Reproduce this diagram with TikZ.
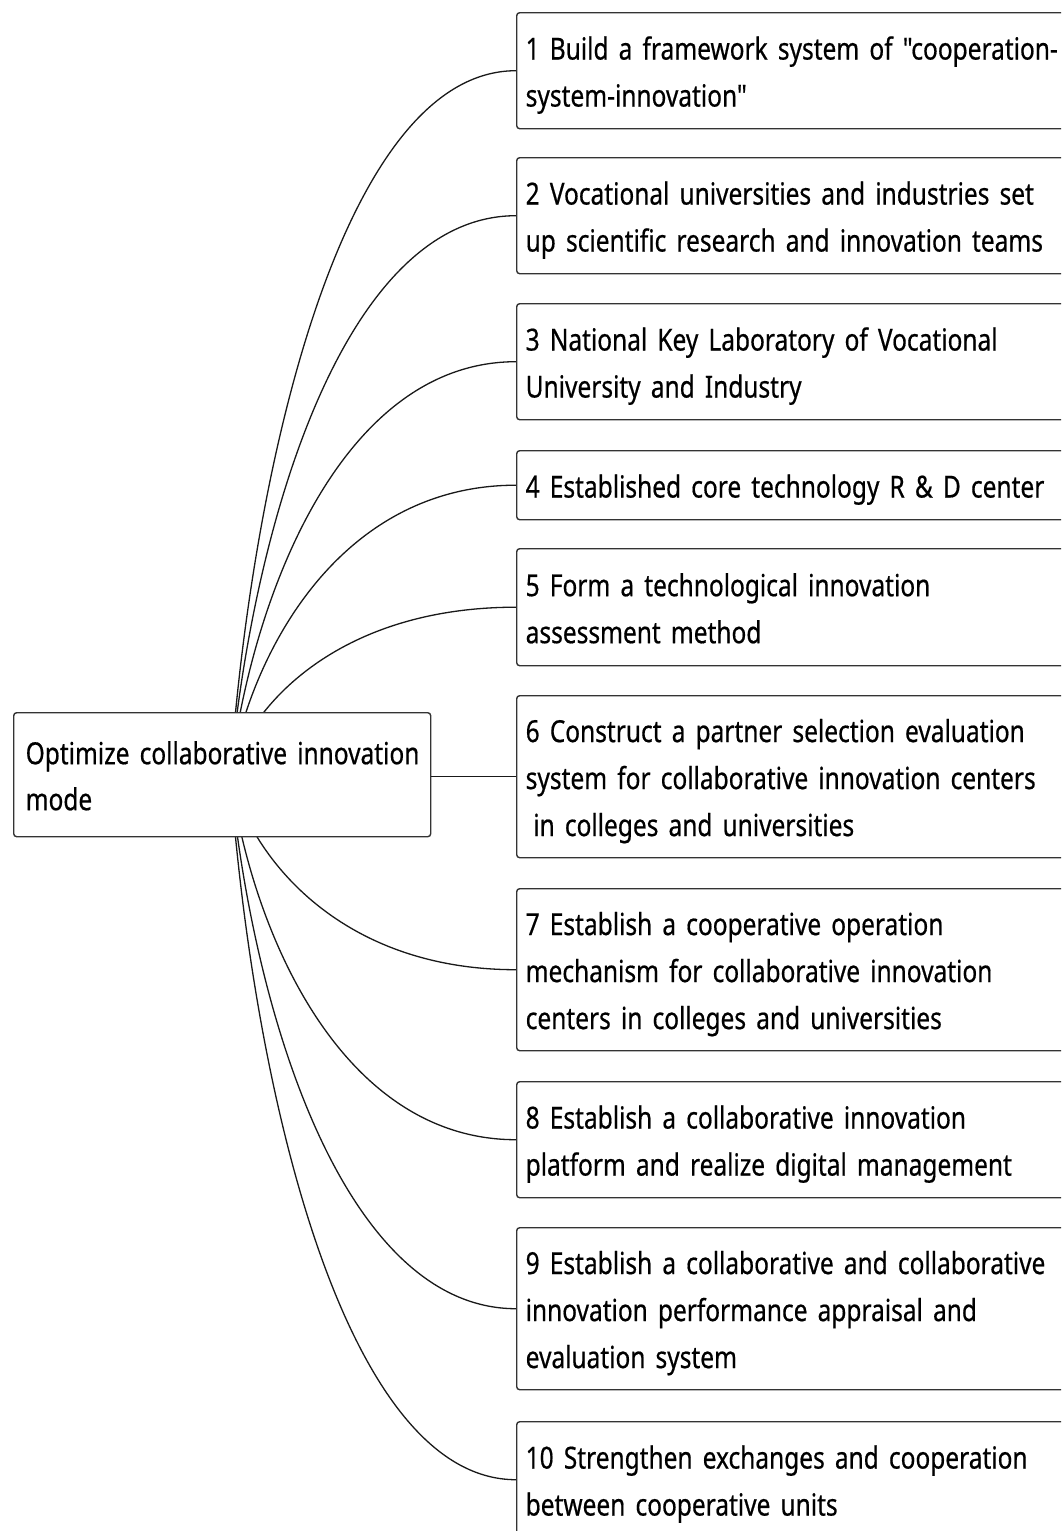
\documentclass[tikz,border=0pt]{standalone}
\usepackage{fontspec}
\newfontfamily\nsans{Noto Sans}[FakeStretch=0.805, WordSpace=0.85, FakeBold=0.5]
\usetikzlibrary{calc,backgrounds}
\newcommand{\bxt}[1]{\rule{0pt}{32pt}#1\rule[-7pt]{0pt}{7pt}}
\tikzset{
  topic/.style={draw=black!80, line width=1.4pt, rounded corners=3pt, fill=white,
    anchor=north west, inner xsep=9pt, inner ysep=0pt, align=left,
    minimum width=570pt, text width=552pt,
    font=\nsans\fontsize{30.4pt}{47pt}\selectfont},
  roottopic/.style={topic, inner xsep=12pt, minimum width=417pt, text width=393pt,
    font=\nsans\fontsize{30.4pt}{46pt}\selectfont},
  link/.style={draw=black!90, line width=1.3pt},
}
\begin{document}
\begin{tikzpicture}[x=1pt,y=-1pt]
\useasboundingbox (0,0) rectangle (1061,1531);
\clip (0,0) rectangle (1061,1531);

\node[roottopic, minimum height=124pt] (root) at (13,712)
  {\bxt{\mbox{Optimize collaborative innovation}\\mode}};

\node[topic, minimum height=116pt] (b1) at (516,12)
  {\bxt{1 Build a framework system of "cooperation-\\system-innovation"}};
\node[topic, minimum height=116pt] (b2) at (516,157)
  {\bxt{2 Vocational universities and industries set\\up scientific research and innovation teams}};
\node[topic, minimum height=116pt] (b3) at (516,303)
  {\bxt{3 National Key Laboratory of Vocational\\University and Industry}};
\node[topic, minimum height=69pt] (b4) at (516,450)
  {\bxt{4 Established core technology R \& D center}};
\node[topic, minimum height=117pt] (b5) at (516,548)
  {\bxt{5 Form a technological innovation\\assessment method}};
\node[topic, minimum height=162pt] (b6) at (516,695)
  {\bxt{6 Construct a partner selection evaluation\\system for collaborative innovation centers\\\hspace*{.25em}in colleges and universities}};
\node[topic, minimum height=162pt] (b7) at (516,888)
  {\bxt{7 Establish a cooperative operation\\mechanism for collaborative innovation\\centers in colleges and universities}};
\node[topic, minimum height=116pt] (b8) at (516,1081)
  {\bxt{8 Establish a collaborative innovation\\platform and realize digital management}};
\node[topic, minimum height=162pt] (b9) at (516,1227)
  {\bxt{9 Establish a collaborative and collaborative\\innovation performance appraisal and\\evaluation system}};
\node[topic, minimum height=116pt] (b10) at (516,1421)
  {\bxt{10 Strengthen exchanges and cooperation\\between cooperative units}};

\coordinate (hub) at ([xshift=8pt]root.center);

\begin{pgfonlayer}{background}
\fill[white] (0,0) rectangle (1061,1531);
\foreach \b in {b1,b2,b3,b4,b5,b7,b8,b9,b10}{
  \draw[link] let \p1=(hub), \p2=(\b.west) in
    (hub) .. controls ({\x1+0.08*(\x2-\x1)},{\y1+0.45*(\y2-\y1)})
             and ({\x2-0.6*(\x2-\x1)},{\y2}) .. (\b.west);
}
\end{pgfonlayer}
\draw[link] (b6.west -| root.east) -- (b6.west);
\end{tikzpicture}
\end{document}
